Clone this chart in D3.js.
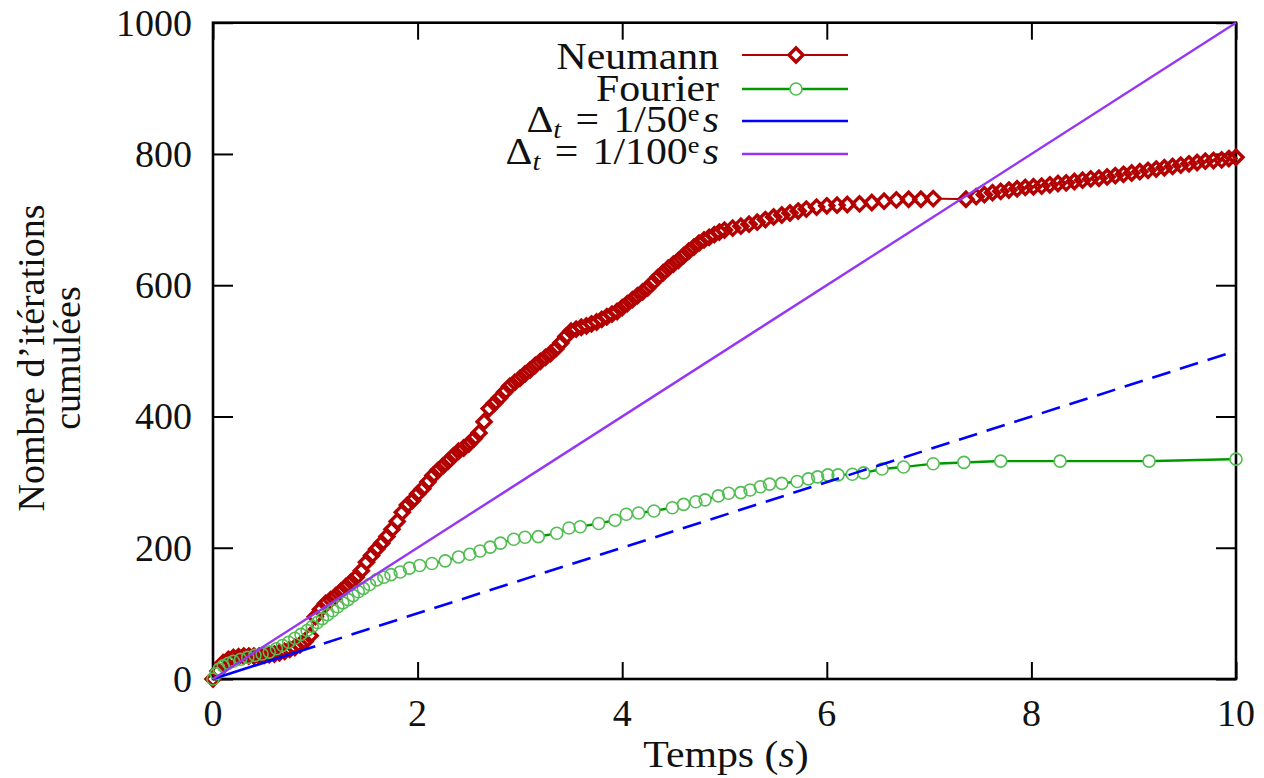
<!DOCTYPE html>
<html><head><meta charset="utf-8">
<script src="https://cdn.jsdelivr.net/npm/d3@7"></script>
<style>
body{margin:0;background:#fff}svg{display:block}
svg text{font-family:'Liberation Serif','DejaVu Serif','Times New Roman',serif;}
</style>
</head><body>
<svg id="c" width="1264" height="778"></svg>
<script>
// ---------- data ----------
const xTicks = [0, 2, 4, 6, 8, 10];
const yTicks = [0, 200, 400, 600, 800, 1000];
const xLabel = "Temps";
const yLabelLines = ["Nombre d\u2019itérations", "cumulées"];
const seriesNames = ["Neumann", "Fourier"];

// Neumann: cumulated iterations vs time [t, iterations]
const neumann = [
 [0,0],[0.05,12],[0.1,25],[0.15,30],[0.2,33],[0.25,34],[0.3,35],[0.35,35],[0.4,35],[0.45,35],
 [0.5,36],[0.55,37],[0.6,38],[0.65,40],[0.7,42],[0.75,45],[0.8,48],[0.85,52],[0.9,57],[0.95,66],
 [1.0,95],[1.05,106],[1.1,115],[1.15,121],[1.2,127],[1.25,134],[1.3,141],[1.35,148],[1.4,155],[1.45,165],
 [1.5,178],[1.55,188],[1.6,198],[1.65,207],[1.7,217],[1.75,228],[1.8,240],[1.85,254],[1.9,265],[1.95,272],
 [2.0,282],[2.05,290],[2.1,300],[2.15,310],[2.2,318],[2.25,325],[2.3,332],[2.35,340],[2.4,347],[2.45,352],
 [2.5,358],[2.55,366],[2.6,375],[2.65,392],[2.7,412],[2.75,420],[2.8,428],[2.85,437],[2.9,446],[2.95,452],
 [3.0,458],[3.05,465],[3.1,471],[3.15,478],[3.2,484],[3.25,490],[3.3,496],[3.35,503],[3.4,512],[3.45,522],
 [3.5,530],[3.55,533],[3.6,536],[3.65,538],[3.7,541],[3.75,544],[3.8,548],[3.85,552],[3.9,556],[3.95,560],
 [4.0,566],[4.05,572],[4.1,578],[4.15,584],[4.2,590],[4.25,596],[4.3,604],[4.35,612],[4.4,619],[4.45,626],
 [4.5,632],[4.55,638],[4.6,645],[4.65,652],[4.7,658],[4.75,664],[4.8,669],[4.85,673],[4.9,677],[4.95,681],
 [5.0,684],[5.08,687],[5.16,690],[5.24,693],[5.32,696],[5.4,700],[5.48,704],[5.56,707],[5.64,710],[5.72,713],
 [5.8,716],[5.9,719],[6.0,721],[6.1,722],[6.2,723],[6.32,724],[6.44,726],[6.56,728],[6.68,730],[6.8,731],
 [6.92,731],[7.04,732],[7.36,731],[7.46,735],[7.54,738],[7.62,741],[7.7,743],[7.78,745],[7.86,747],[7.94,749],
 [8.02,750],[8.1,751],[8.18,753],[8.26,755],[8.34,756],[8.42,758],[8.5,760],[8.58,762],[8.66,763],[8.74,765],
 [8.82,767],[8.9,769],[8.98,771],[9.06,773],[9.14,775],[9.22,777],[9.3,779],[9.38,781],[9.46,783],[9.54,785],
 [9.62,787],[9.7,789],[9.78,790],[9.86,791],[9.93,793],[10.0,795]
];

// Fourier: cumulated iterations vs time [t, iterations]
const fourier = [
 [0,0],[0.03,8],[0.06,15],[0.1,20],[0.15,24],[0.2,27],[0.27,30],[0.34,33],[0.41,36],[0.48,38],
 [0.55,41],[0.62,46],[0.68,51],[0.74,56],[0.8,62],[0.86,68],[0.92,74],[0.97,80],[1.02,86],[1.07,92],
 [1.12,98],[1.17,104],[1.22,110],[1.27,116],[1.32,121],[1.37,127],[1.42,133],[1.47,138],[1.53,144],[1.6,151],
 [1.67,155],[1.74,159],[1.83,163],[1.92,169],[2.02,173],[2.14,176],[2.27,180],[2.4,186],[2.51,190],[2.61,195],
 [2.71,201],[2.81,207],[2.94,213],[3.05,216],[3.18,217],[3.36,222],[3.48,230],[3.59,232],[3.77,237],[3.93,242],
 [4.04,251],[4.16,253],[4.31,256],[4.49,261],[4.6,266],[4.72,270],[4.81,273],[4.94,279],[5.04,283],[5.16,284],
 [5.25,288],[5.35,293],[5.44,297],[5.56,298],[5.71,301],[5.82,305],[5.91,308],[6.01,311],[6.11,311],[6.25,312],
 [6.36,314],[6.54,320],[6.75,323],[7.04,328],[7.34,330],[7.7,332],[8.28,332],[9.15,332],[10.0,335]
];

// reference lines: iterations at fixed time step
const dt50 = [[0,0],[1,50],[10,500]];
const dt100 = [[0,0],[10,1000]];

// ---------- drawing ----------
const svg = d3.select('#c');
const x = d3.scaleLinear([0, 10], [213, 1236]);
const y = d3.scaleLinear([0, 1000], [679, 22.7]);

const C = {red:'#b30000', green:'#009a00', greenMk:'#52bd52', blue:'#0000ff', purple:'#9636f4'};
const DR = 7, DW = 3.4, CR = 6, CW = 1.6;

function styleAxis(g){
  g.select('.domain').remove();
  g.selectAll('.tick line').attr('stroke','#000').attr('stroke-width',2);
  g.selectAll('.tick text').remove();
}
svg.append('g').attr('transform','translate(0,679)')
  .call(d3.axisBottom(x).tickValues(xTicks).tickSize(-17).tickFormat('')).call(styleAxis);
svg.append('g').attr('transform','translate(0,22.7)')
  .call(d3.axisTop(x).tickValues(xTicks).tickSize(-17).tickFormat('')).call(styleAxis);
svg.append('g').attr('transform','translate(213,0)')
  .call(d3.axisLeft(y).tickValues(yTicks).tickSize(-20).tickFormat('')).call(styleAxis);
svg.append('g').attr('transform','translate(1236,0)')
  .call(d3.axisRight(y).tickValues(yTicks).tickSize(-20).tickFormat('')).call(styleAxis);

svg.append('rect').attr('x',x(0)).attr('y',y(1000)).attr('width',x(10)-x(0)).attr('height',y(0)-y(1000))
  .attr('fill','none').attr('stroke','#000').attr('stroke-width',2.6);

svg.append('g').selectAll('text').data(xTicks).join('text')
  .attr('x',d=>x(d)).attr('y',726).attr('text-anchor','middle')
  .attr('font-size',38).attr('fill','#111').text(d=>d);
svg.append('g').selectAll('text').data(yTicks).join('text')
  .attr('x',192).attr('y',d=>y(d)+13).attr('text-anchor','end')
  .attr('font-size',38).attr('fill','#111').text(d=>d);

const xt = svg.append('text').attr('transform','translate(726,767) scale(1.1,1)')
  .attr('text-anchor','middle').attr('font-size',38).attr('fill','#111');
xt.append('tspan').text(xLabel + ' (');
xt.append('tspan').attr('font-style','italic').text('s');
xt.append('tspan').text(')');

const yt = svg.append('g').attr('transform','translate(0,358) rotate(-90)');
yt.append('text').attr('x',0).attr('y',44).attr('text-anchor','middle')
  .attr('font-size',38).attr('fill','#111').text(yLabelLines[0]);
yt.append('text').attr('x',0).attr('y',80).attr('text-anchor','middle')
  .attr('font-size',38).attr('fill','#111').text(yLabelLines[1]);

function gapPath(pts, r){
  let d = '';
  for (let i=0;i<pts.length-1;i++){
    const [x0,y0]=pts[i], [x1,y1]=pts[i+1];
    const dx=x1-x0, dy=y1-y0, L=Math.hypot(dx,dy);
    if (L>2*r){
      const ux=dx/L, uy=dy/L;
      d += `M${x0+ux*r},${y0+uy*r}L${x1-ux*r},${y1-uy*r}`;
    }
  }
  return d;
}
const diamond = r => `M0,${-r}L${r},0L0,${r}L${-r},0Z`;

// Neumann
const nPts = neumann.map(d=>[x(d[0]),y(d[1])]);
svg.append('path').attr('d',gapPath(nPts,8)).attr('fill','none').attr('stroke',C.red).attr('stroke-width',2);
svg.append('g').selectAll('path').data(nPts).join('path')
  .attr('d',diamond(DR)).attr('transform',d=>`translate(${d[0]},${d[1]})`)
  .attr('fill','none').attr('stroke',C.red).attr('stroke-width',DW);

// Fourier
const fPts = fourier.map(d=>[x(d[0]),y(d[1])]);
svg.append('path').attr('d',gapPath(fPts,CR)).attr('fill','none').attr('stroke',C.green).attr('stroke-width',2.4);
svg.append('g').selectAll('circle').data(fPts).join('circle')
  .attr('cx',d=>d[0]).attr('cy',d=>d[1]).attr('r',CR)
  .attr('fill','none').attr('stroke',C.greenMk).attr('stroke-width',CW);

const line = d3.line().x(d=>x(d[0])).y(d=>y(d[1]));
svg.append('path').attr('d',line(dt50.slice(0,2))).attr('fill','none').attr('stroke',C.blue).attr('stroke-width',2.6);
svg.append('path').attr('d',line(dt50.slice(1))).attr('fill','none').attr('stroke',C.blue)
  .attr('stroke-width',2.6).attr('stroke-dasharray','19,10').attr('stroke-dashoffset',-9);

svg.append('path').attr('d',line(dt100)).attr('fill','none').attr('stroke',C.purple).attr('stroke-width',2.4);

// ---------- legend ----------
const lgX0 = 742, lgX1 = 848, lgMid = 796, textX = 719;
const rows = [55, 89, 121, 154];
const base = [69, 101, 132, 164];
function legendText(i){
  return svg.append('text').attr('transform',`translate(${textX},${base[i]}) scale(1.1,1)`)
    .attr('text-anchor','end').attr('font-size',38).attr('fill','#111');
}
legendText(0).text(seriesNames[0]);
legendText(1).text(seriesNames[1]);
function dtLabel(i, denom){
  const t = legendText(i);
  t.append('tspan').text('\u0394');
  t.append('tspan').attr('font-style','italic').attr('font-size',26).attr('dy',6).text('t');
  t.append('tspan').attr('dy',-6).attr('dx',13).text('=');
  t.append('tspan').attr('dx',13).text('1/' + denom);
  t.append('tspan').attr('font-size',24).attr('dy',-11).text('e');
  t.append('tspan').attr('font-style','italic').attr('dy',11).attr('dx',3).text('s');
}
dtLabel(2, 50);
dtLabel(3, 100);

svg.append('path').attr('d',`M${lgX0},${rows[0]}L${lgMid-8},${rows[0]}M${lgMid+8},${rows[0]}L${lgX1},${rows[0]}`)
  .attr('stroke',C.red).attr('stroke-width',2);
svg.append('path').attr('d',diamond(DR)).attr('transform',`translate(${lgMid},${rows[0]})`)
  .attr('fill','none').attr('stroke',C.red).attr('stroke-width',DW);
svg.append('path').attr('d',`M${lgX0},${rows[1]}L${lgMid-CR},${rows[1]}M${lgMid+CR},${rows[1]}L${lgX1},${rows[1]}`)
  .attr('stroke',C.green).attr('stroke-width',2.4);
svg.append('circle').attr('cx',lgMid).attr('cy',rows[1]).attr('r',CR)
  .attr('fill','none').attr('stroke',C.greenMk).attr('stroke-width',CW);
svg.append('path').attr('d',`M${lgX0},${rows[2]}L${lgX1},${rows[2]}`).attr('stroke',C.blue).attr('stroke-width',2.6);
svg.append('path').attr('d',`M${lgX0},${rows[3]}L${lgX1},${rows[3]}`).attr('stroke',C.purple).attr('stroke-width',2.4);
</script>
</body></html>
